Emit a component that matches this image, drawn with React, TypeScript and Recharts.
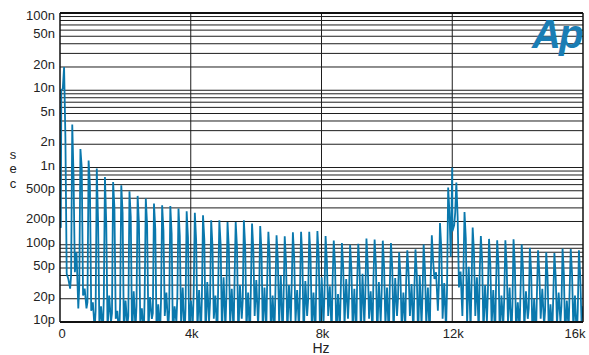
import React from "react";
import { LineChart, Line, XAxis, YAxis, CartesianGrid, ReferenceLine } from "recharts";

// ---- data (values in picoseconds) ----
const leadInHz = [0, 25, 40, 85];
const leadInPs = [220, 165, 10000, 10500];

const harmonicHz = [
  125, 375, 625, 875, 1125, 1375, 1625, 1875, 2125, 2375, 2625, 2875, 3125, 3375, 3625, 3875,
  4125, 4375, 4625, 4875, 5125, 5375, 5625, 5875, 6125, 6375, 6625, 6875, 7125, 7375, 7625, 7875,
  8125, 8375, 8625, 8875, 9125, 9375, 9625, 9875, 10125, 10375, 10625, 10875, 11125, 11375, 11625, 11875,
  12125, 12375, 12625, 12875, 13125, 13375, 13625, 13875, 14125, 14375, 14625, 14875, 15125, 15375, 15625, 15875,
];

const peakPs = [
  20000, 3600, 1730, 1230, 970, 755, 650, 590, 493, 429, 397, 342, 325, 318, 294, 272,
  260, 241, 208, 208, 197, 197, 208, 188, 175, 147, 133, 129, 145, 147, 147, 151,
  130, 113, 105, 100, 103, 120, 117, 113, 105, 80, 85, 87, 101, 133, 191, 551,
  640, 266, 167, 130, 119, 114, 114, 118, 101, 91, 85, 80, 78, 89, 88, 85,
];

const shoulderPs = [
  2500, 760, 1000, 600, 200, 190, 300, 260, 230, 190, 180, 160, 150, 140, 130, 125,
  115, 118, 95, 100, 90, 92, 95, 86, 80, 70, 62, 60, 68, 66, 70, 70,
  60, 55, 50, 48, 50, 56, 55, 52, 50, 40, 42, 42, 48, 62, 90, 260,
  230, 120, 80, 62, 56, 54, 54, 55, 48, 44, 42, 40, 38, 42, 42, 40,
];

const dipAPs = [
  42, 44, 22, 14, 9, 8, 11, 7, 6, 10, 8, 7, 12, 6, 9, 7,
  8, 6, 11, 7, 9, 6, 8, 12, 7, 6, 9, 7, 10, 6, 8, 7,
  12, 6, 9, 8, 7, 11, 6, 9, 7, 8, 12, 6, 9, 36, 11, 70,
  28, 9, 12, 7, 9, 6, 10, 7, 8, 6, 11, 7, 9, 6, 8, 10,
];

const noiseAPs = [
  36, 80, 27, 18, 16, 22, 14, 19, 25, 15, 21, 17, 24, 16, 28, 19,
  26, 33, 22, 38, 27, 30, 24, 35, 28, 22, 40, 30, 26, 34, 24, 38,
  29, 23, 36, 27, 42, 25, 33, 28, 37, 24, 31, 40, 28, 44, 32, 150,
  45, 52, 38, 30, 26, 22, 28, 18, 25, 20, 27, 17, 24, 19, 22, 16,
];

const dipBPs = [
  27, 15, 15, 8, 7, 10, 6, 9, 8, 6, 11, 7, 8, 10, 6, 9,
  7, 10, 6, 8, 7, 11, 6, 9, 8, 7, 6, 10, 8, 12, 6, 9,
  7, 8, 11, 6, 9, 7, 10, 6, 12, 8, 7, 9, 6, 14, 8, 180,
  12, 8, 7, 10, 6, 9, 7, 8, 11, 6, 9, 7, 10, 8, 6, 12,
];

const noiseBPs = [
  40, 30, 18, 14, 20, 13, 18, 12, 16, 22, 13, 19, 14, 21, 15, 24,
  20, 18, 30, 21, 34, 19, 29, 20, 36, 25, 21, 33, 23, 19, 31, 22,
  35, 26, 21, 32, 22, 38, 24, 30, 20, 34, 25, 22, 36, 30, 26, 260,
  40, 30, 44, 24, 31, 20, 16, 26, 15, 23, 14, 21, 16, 25, 14, 18,
];

// offsets (Hz) of the sampled points within each harmonic period
const periodOffsetsHz = [0, 40, 80, 130, 185, 215];

const toneHz = [12000];
const tonePs = [1000];

const yTicks = [10, 20, 50, 100, 200, 500, 1000, 2000, 5000, 10000, 20000, 50000, 100000];
const yGrid = [
  10, 20, 30, 40, 50, 60, 70, 80, 90,
  100, 200, 300, 400, 500, 600, 700, 800, 900,
  1000, 2000, 3000, 4000, 5000, 6000, 7000, 8000, 9000,
  10000, 20000, 30000, 40000, 50000, 60000, 70000, 80000, 90000, 100000,
];
const xTicks = [0, 4000, 8000, 12000, 16000];
const xGrid = [4000, 8000, 12000];

// ---- build table ----
type Pt = { hz: number; v: number };
const data: Pt[] = [];
leadInHz.forEach((hz, i) => data.push({ hz, v: leadInPs[i] }));
const seriesByOffset = [peakPs, shoulderPs, dipAPs, noiseAPs, dipBPs, noiseBPs];
harmonicHz.forEach((f, k) => {
  periodOffsetsHz.forEach((off, j) => data.push({ hz: f + off, v: seriesByOffset[j][k] }));
});
toneHz.forEach((hz, i) => data.push({ hz, v: tonePs[i] }));
data.sort((a, b) => a.hz - b.hz);

const FONT = "'Liberation Sans', Arial, Helvetica, sans-serif";
const BLUE = "#0a78ad";

const fmtY = (v: number) => (v >= 1000 ? `${v / 1000}n` : `${v}p`);
const fmtX = (v: number) => (v === 0 ? "0" : `${v / 1000}k`);

const YTick = (props: any) => {
  const { x, y, payload } = props;
  const dy = payload.value === 100000 ? 6.5 : 2;
  return (
    <text x={x} y={y + dy} textAnchor="end" fontSize={13} fill="#222" fontFamily={FONT}>
      {fmtY(payload.value)}
    </text>
  );
};

const XTick = (props: any) => {
  const { x, y, payload } = props;
  const dx = payload.value === 0 ? 2 : payload.value === 16000 ? -8 : 1;
  return (
    <text x={x + dx} y={y + 16} textAnchor="middle" fontSize={13} fill="#222" fontFamily={FONT}>
      {fmtX(payload.value)}
    </text>
  );
};

export default function App() {
  return (
    <div style={{ position: "absolute", left: 0, top: 0, width: 589, height: 355, background: "#fff" }}>
      <LineChart width={589} height={355} data={data} margin={{ top: 13, right: 6, bottom: 0, left: 10 }}>
        <CartesianGrid
          horizontalValues={yGrid}
          verticalValues={xGrid}
          stroke="#1e1e1e"
          strokeWidth={1}
        />
        <XAxis
          dataKey="hz"
          type="number"
          domain={[0, 16000]}
          ticks={xTicks}
          allowDataOverflow
          height={33}
          tickSize={0}
          tickMargin={0}
          axisLine={false}
          tickLine={false}
          tick={<XTick />}
          interval={0}
        />
        <YAxis
          type="number"
          scale="log"
          domain={[10, 100000]}
          ticks={yTicks}
          allowDataOverflow
          width={50}
          tickSize={0}
          tickMargin={5}
          axisLine={false}
          tickLine={false}
          tick={<YTick />}
          interval={0}
        />
        <Line
          dataKey="v"
          type="linear"
          stroke={BLUE}
          strokeWidth={1.8}
          dot={false}
          activeDot={false}
          isAnimationActive={false}
        />
        <ReferenceLine x={0} stroke="#111" strokeWidth={1.5} />
        <ReferenceLine x={16000} stroke="#111" strokeWidth={1.5} />
        <ReferenceLine y={10} stroke="#111" strokeWidth={1.8} />
        <ReferenceLine y={100000} stroke="#111" strokeWidth={2} />
      </LineChart>
      <svg
        width={589}
        height={355}
        style={{ position: "absolute", left: 0, top: 0, pointerEvents: "none" }}
      >
        <text x={13} y={158.5} textAnchor="middle" fontSize={13} fill="#222" fontFamily={FONT}>s</text>
        <text x={13} y={173} textAnchor="middle" fontSize={13} fill="#222" fontFamily={FONT}>e</text>
        <text x={13} y={187.5} textAnchor="middle" fontSize={13} fill="#222" fontFamily={FONT}>c</text>
        <text x={321} y={353} textAnchor="middle" fontSize={14} fill="#222" fontFamily={FONT}>Hz</text>
        <text
          x={532}
          y={48}
          fontSize={40}
          fontWeight="bold"
          fontStyle="italic"
          fill="#1a7db4"
          letterSpacing={-2}
          fontFamily={FONT}
        >
          Ap
        </text>
      </svg>
    </div>
  );
}
